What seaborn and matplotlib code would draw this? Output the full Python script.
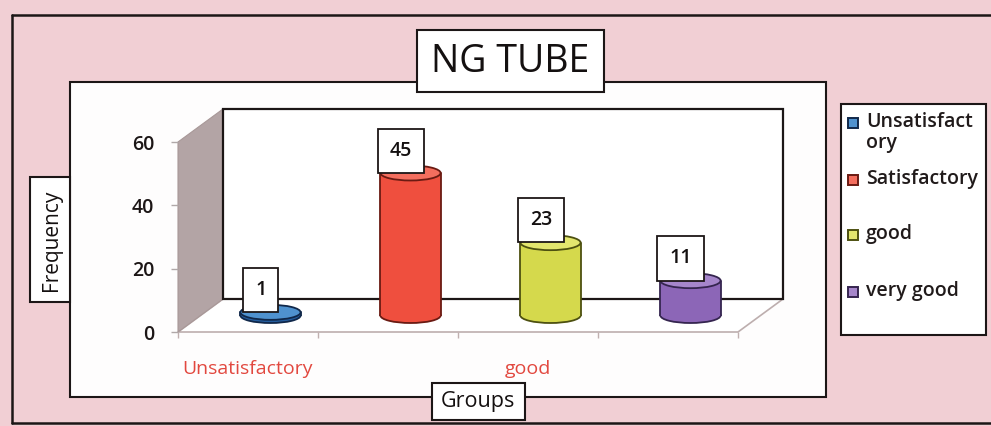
import matplotlib
matplotlib.use("Agg")
import matplotlib.pyplot as plt
import pandas as pd
import seaborn as sns
from matplotlib.patches import Rectangle, Ellipse, Polygon

# ---- data -------------------------------------------------------------
groups = ["Unsatisfactory", "Satisfactory", "good", "very good"]
frequency = [1, 45, 23, 11]
shown_labels = ["Unsatisfactory", "", "good", ""]
legend_labels = ["Unsatisfact\nory", "Satisfactory", "good", "very good"]
y_ticks = [0, 20, 40, 60]

body_colors = ["#245d9e", "#ef4f3e", "#d5d94c", "#8c66b7"]
cap_colors = ["#4f92cf", "#f46e5e", "#e3e66e", "#a686cb"]
edge_colors = ["#10284a", "#6a1a12", "#4d5010", "#35254f"]

df = pd.DataFrame({"Groups": groups, "Frequency": frequency})

# ---- figure -----------------------------------------------------------
W, H = 991, 426
PINK = "#f1cfd4"
INK = "#1c1616"
LABEL_RED = "#e2483f"

sns.set_theme(style="white")
plt.rcParams["font.family"] = ["Open Sans", "DejaVu Sans"]

fig = plt.figure(figsize=(W / 100, H / 100), dpi=100)
fig.patch.set_facecolor(PINK)

# pixel canvas (y grows downward) for frames and boxes
bg = fig.add_axes([0, 0, 1, 1], zorder=0)
bg.set_xlim(0, W)
bg.set_ylim(H, 0)
bg.axis("off")


def box(x0, y0, x1, y1, fc="white", lw=1.5, z=1):
    bg.add_patch(Rectangle((x0, y0), x1 - x0, y1 - y0, facecolor=fc,
                           edgecolor=INK, lw=lw, zorder=z))


# outer frame
bg.plot([12, 12], [15, 423], color=INK, lw=1.8, zorder=1)
bg.plot([12, W], [15, 15], color=INK, lw=1.8, zorder=1)
bg.plot([12, W], [423, 423], color=INK, lw=1.8, zorder=1)

# chart area
box(70, 82, 826, 397, fc="#fefdfd")

# 3-D plot geometry: front plane and depth offset (pixels)
FX0, FX1, FY0, FY60 = 178, 738, 332, 142
DX, DY = 45, -33

floor = Polygon([(FX0, FY0), (FX0 + DX, FY0 + DY), (FX1 + DX, FY0 + DY), (FX1, FY0)],
                closed=True, facecolor="white", edgecolor="#bdaeae", lw=1.2, zorder=2)
bg.add_patch(floor)
side = Polygon([(FX0, FY60), (FX0 + DX, FY60 + DY), (FX0 + DX, FY0 + DY), (FX0, FY0)],
               closed=True, facecolor="#b3a4a5", edgecolor="#a89898", lw=0.8, zorder=2)
bg.add_patch(side)
box(FX0 + DX, FY60 + DY, FX1 + DX, FY0 + DY, fc="white", lw=1.6, z=3)

# title
box(417, 30, 604, 92, z=4)
bg.text(510, 62, "NG TUBE", fontsize=27, ha="center", va="center", color="#141010", zorder=5)

# axis title boxes
box(30, 177, 70, 302, z=4)
bg.text(51, 240, "Frequency", fontsize=15, rotation=90, ha="center", va="center",
        color="#141010", zorder=5)
box(432, 383, 525, 420, z=4)
bg.text(478, 401, "Groups", fontsize=15.5, ha="center", va="center", color="#141010", zorder=5)

# legend
box(841, 104, 986, 335, z=4)
legend_y = [123, 180, 235, 292]
for lab, yy, col, ec in zip(legend_labels, legend_y, cap_colors, edge_colors):
    bg.add_patch(Rectangle((848, yy - 5), 10, 10, facecolor=col, edgecolor=ec, lw=1.4, zorder=5))
    bg.text(866, yy - 11, lab, fontsize=14, fontweight="semibold", ha="left", va="top",
            linespacing=1.05, color="#201a1a", zorder=5)


def plane_axes(dx, dy, z):
    rect = [(FX0 + dx) / W, (H - (FY0 + dy)) / H, (FX1 - FX0) / W, (FY0 - FY60) / H]
    a = fig.add_axes(rect, zorder=z)
    a.patch.set_alpha(0)
    for s in a.spines.values():
        s.set_visible(False)
    return a


# front plane: value axis and category labels
ax = plane_axes(0, 0, 2)
ax.set_xlim(-0.5, 3.5)
ax.set_ylim(0, 60)
ax.set_yticks(y_ticks)
ax.set_yticklabels([str(t) for t in y_ticks], fontsize=14, fontweight="semibold", color="#1c1616")
ax.set_xticks(range(len(groups)))
ax.set_xticklabels(shown_labels, fontsize=14, color=LABEL_RED)
ax.set_xticks([i - 0.5 for i in range(len(groups) + 1)], minor=True)
ax.tick_params(axis="y", left=True, length=5, width=1, color="#b0a8a8", pad=12)
ax.tick_params(axis="x", which="major", bottom=True, length=0, pad=20)
ax.tick_params(axis="x", which="minor", bottom=True, length=4, width=1, color="#c0b0b0")

# mid-depth plane: cylinders
bx = plane_axes(DX / 2, DY / 2, 3)
sns.barplot(data=df, x="Groups", y="Frequency", hue="Groups", order=groups,
            hue_order=groups, palette=body_colors, saturation=1, width=0.43,
            legend=False, ax=bx)
bx.set_xlim(-0.5, 3.5)
bx.set_ylim(0, 60)
bx.axis("off")

px_per_unit = (FY0 - FY60) / 60
cap_h = 15 / px_per_unit

for p in list(bx.patches):
    x, w, h = p.get_x(), p.get_width(), p.get_height()
    i = int(round(x + w / 2))
    cx = x + w / 2
    p.set_edgecolor("none")
    p.set_zorder(3)
    bottom = Ellipse((cx, 0), w, cap_h, facecolor=body_colors[i],
                     edgecolor=edge_colors[i], lw=1.3, zorder=2)
    bottom.set_clip_on(False)
    bx.add_patch(bottom)
    bx.plot([x, x], [0, h], color=edge_colors[i], lw=1.3, zorder=4)
    bx.plot([x + w, x + w], [0, h], color=edge_colors[i], lw=1.3, zorder=4)
    top = Ellipse((cx, h), w, cap_h, facecolor=cap_colors[i],
                  edgecolor=edge_colors[i], lw=1.3, zorder=5)
    top.set_clip_on(False)
    bx.add_patch(top)

# value labels
for i, v in enumerate(frequency):
    bx.annotate(str(v), xy=(i, v), xytext=(-7, 16), textcoords="offset points",
                ha="center", va="center", fontsize=14, fontweight="semibold", color="#141010",
                bbox=dict(boxstyle="square,pad=0.62", fc="white", ec=INK, lw=1.3),
                zorder=6, annotation_clip=False)

fig.savefig("out.png", dpi=100, facecolor=fig.get_facecolor())
